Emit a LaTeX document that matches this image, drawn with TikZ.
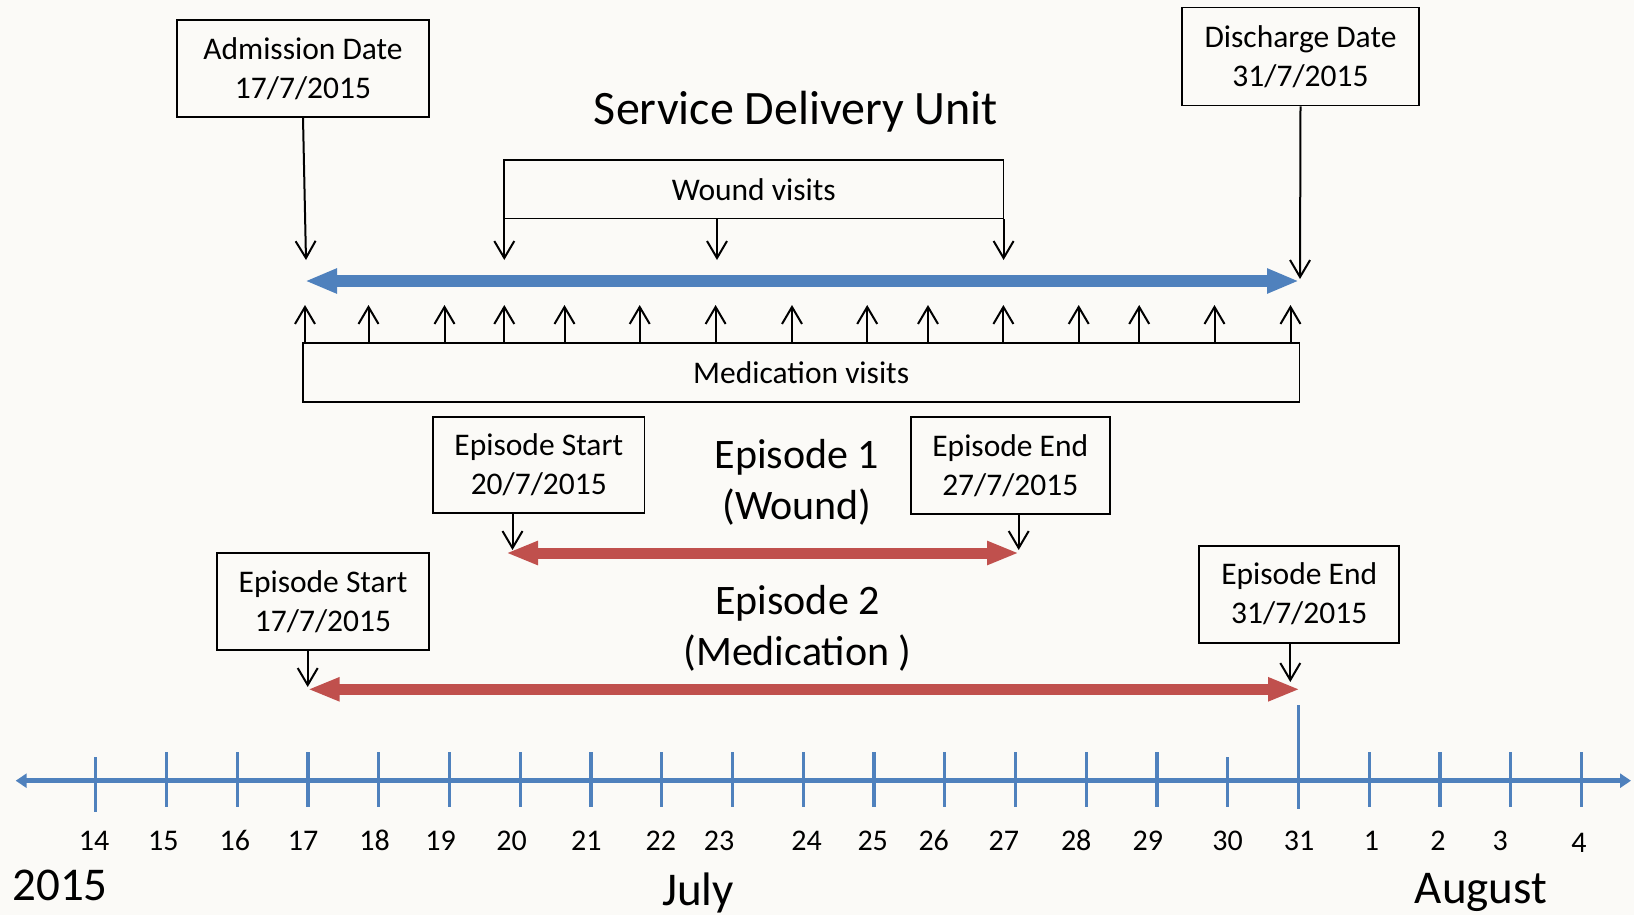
\documentclass[tikz,border=0pt]{standalone}
\usepackage{fontspec}
\setmainfont{Carlito}
\usetikzlibrary{arrows.meta}
\definecolor{bg}{RGB}{251,250,247}
\definecolor{ublue}{RGB}{79,129,189}
\definecolor{ured}{RGB}{192,80,77}
\begin{document}
\begin{tikzpicture}[x=1pt,y=-1pt,
  box/.style={draw=black, line width=1.7pt, inner sep=0pt, align=center,
    font=\fontsize{31.5}{39}\selectfont},
  barb/.style={line width=2pt, -{Straight Barb[length=17pt,width=20pt]}},
  bluespan/.style={ublue, line width=11.5pt,
    {Triangle[length=32pt,width=23pt]}-{Triangle[length=32pt,width=23pt]}},
  redspan/.style={ured, line width=11pt,
    {Triangle[length=32pt,width=22pt]}-{Triangle[length=32pt,width=22pt]}},
  axisline/.style={ublue, line width=5.5pt,
    {Triangle[length=11pt,width=14pt]}-{Triangle[length=11pt,width=14pt]}},
  tick/.style={ublue, line width=3.2pt},
  daylbl/.style={anchor=base, inner sep=0pt, font=\fontsize{30}{36}\selectfont},
  biglbl/.style={anchor=base, inner sep=0pt, font=\fontsize{47}{52}\selectfont},
  eplbl/.style={align=center, inner sep=0pt, font=\fontsize{42}{51}\selectfont}
]
\useasboundingbox[fill=bg] (0,0) rectangle (1634,915);

% top boxes
\node[box, minimum width=252pt, minimum height=97pt] (admbox) at (303,68.5) {Admission Date\\17/7/2015};
\node[box, minimum width=237pt, minimum height=98pt] (disbox) at (1300.5,56.5) {Discharge Date\\31/7/2015};
\node[inner sep=0pt, font=\fontsize{48}{52}\selectfont] (title) at (796,111.5) {Service Delivery Unit};
\node[box, minimum width=499.5pt, minimum height=58.3pt] (wound) at (753.8,189.2) {Wound visits};
\node[box, minimum width=996.3pt, minimum height=58.4pt] (med) at (801.2,372.5) {Medication visits};

% service delivery span
\coordinate (sdl) at (305,281);
\coordinate (sdr) at (1299,281);
\draw[bluespan] (sdl) -- (sdr);
\coordinate (admtip) at (306,260);
\coordinate (distip) at (1300,279);
\draw[barb] (admbox.south) -- (admtip);
\draw[barb] (disbox.south) -- (distip);

% wound visit arrows
\foreach \x in {504.3,717,1003.6}
  \draw[barb] (\x,0 |- wound.south) -- (\x,260);

% medication visit arrows
\foreach \x in {305,368.5,444.5,504.3,564.5,639.7,715.6,792,867.2,928,1003.4,1078.7,1139.2,1214.5,1290.5}
  \draw[barb] (\x,0 |- med.north) -- (\x,305);

% episode 1
\node[box, minimum width=211.6pt, minimum height=96.6pt] (es1) at (538.8,465) {Episode Start\\20/7/2015};
\node[box, minimum width=199.3pt, minimum height=97.3pt] (ee1) at (1010.3,465.3) {Episode End\\27/7/2015};
\node[eplbl] (ep1) at (797,482) {Episode 1\\(Wound)};
\coordinate (e1l) at (506,553);
\coordinate (e1r) at (1019,553);
\draw[redspan] (e1l) -- (e1r);
\draw[barb] (512.5,0 |- es1.south) -- (512.5,550);
\draw[barb] (1018.7,0 |- ee1.south) -- (1018.7,550);

% episode 2
\node[box, minimum width=212.6pt, minimum height=97.3pt] (es2) at (323,601.3) {Episode Start\\17/7/2015};
\node[box, minimum width=199.8pt, minimum height=97pt] (ee2) at (1299.2,594.2) {Episode End\\31/7/2015};
\node[eplbl] (ep2) at (797.5,628) {Episode 2\\(Medication )};
\coordinate (e2l) at (307.7,689.3);
\coordinate (e2r) at (1300,689.3);
\draw[redspan] (e2l) -- (e2r);
\draw[barb] (307.7,0 |- es2.south) -- (307.7,687);
\draw[barb] (1290.3,0 |- ee2.south) -- (1290.3,682);

% timeline
\coordinate (axl) at (15.7,780.7);
\coordinate (axr) at (1631,780.7);
\draw[axisline] (axl) -- (axr);
\foreach \k/\t/\b in {0/757/812,1/752/807,2/752/807,3/752/807,4/752/807,5/752/807,6/752/807,7/752/807,8/752/807,9/752/807,10/752/807,11/752/807,12/752/807,13/752/807,14/752/807,15/752/807,16/757/807,17/705/809,18/752/807,19/752/807,20/752/807,21/752/807}
  \draw[tick] ({95.8+70.75*\k},\t) -- ({95.8+70.75*\k},\b);

\foreach \x/\d in {94.1/14,163.4/15,234.8/16,303.1/17,374.7/18,440.6/19,511.5/20,586.3/21,660.8/22,719.1/23,806.6/24,872.7/25,933.7/26,1003.8/27,1076.2/28,1147.9/29,1227.6/30,1299/31,1371.4/1,1437.9/2,1500.2/3}
  \node[daylbl] (d\d) at (\x,850) {\d};
\node[daylbl] (d4a) at (1579,852) {4};

\node[biglbl] (year) at (60,900) {2015};
\node[biglbl] (july) at (698,905) {July};
\node[biglbl] (aug) at (1481,903) {August};
\end{tikzpicture}
\end{document}
